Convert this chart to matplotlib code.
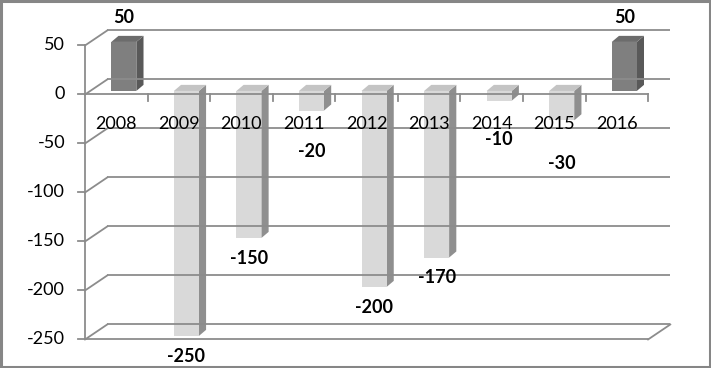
import numpy as np
import matplotlib.pyplot as plt
from matplotlib.patches import Polygon

# ----------------------------------------------
# Data
years = ['2008', '2009', '2010', '2011', '2012', '2013', '2014', '2015', '2016']
values = [50, -250, -150, -20, -200, -170, -10, -30, 50]
y_ticks = [50, 0, -50, -100, -150, -200, -250]

plt.rcParams['font.family'] = ['Lato', 'DejaVu Sans']

# ----------------------------------------------
# Pseudo 3D geometry (category units / value units)
wall_dx, wall_dy = 0.355, 15.3      # depth of the back wall
bar_sx, bar_sy = 0.12, 3.6          # bar front face behind the front plane
bar_dx, bar_dy = 0.115, 6.2         # bar depth
bar_w = 0.40
n = len(years)
vmin, vmax = min(y_ticks), max(y_ticks)

fig = plt.figure(figsize=(7.11, 3.68), dpi=100)
fig.patch.set_facecolor('white')
ax = fig.add_axes([0, 0, 1, 1])
ax.set_xlim(-1.859, 9.506)
ax.set_ylim(-279.1, 96.4)
ax.axis('off')

grid_c = '#8c8c8c'
lw = 1.3
x_left, x_right = -0.5, n - 0.5

# back wall gridlines + left wall diagonals
for v in y_ticks:
    ax.plot([x_left + wall_dx, x_right + wall_dx], [v + wall_dy, v + wall_dy],
            color=grid_c, lw=lw, solid_capstyle='butt')
    ax.plot([x_left, x_left + wall_dx], [v, v + wall_dy], color=grid_c, lw=lw)
    # y tick mark
    ax.plot([x_left - 0.112, x_left], [v, v], color=grid_c, lw=lw)
    ax.text(x_left - 0.32, v, str(v), ha='right', va='center', fontsize=13)

# front vertical axis
ax.plot([x_left, x_left], [vmin, vmax], color=grid_c, lw=lw)

# floor at the bottom
ax.plot([x_left, x_right], [vmin, vmin], color=grid_c, lw=lw)
ax.plot([x_right, x_right + wall_dx], [vmin, vmin + wall_dy], color=grid_c, lw=lw)

# front zero line with category ticks
ax.plot([x_left, x_right], [0, 0], color=grid_c, lw=lw)
for k in range(1, n + 1):
    ax.plot([x_left + k, x_left + k], [0, -6.5], color=grid_c, lw=lw)

# category labels
for i, yr in enumerate(years):
    ax.text(i, -30, yr, ha='center', va='center', fontsize=13)

# ----------------------------------------------
# Bars
for i, v in enumerate(values):
    if v >= 0:
        front, side, top = '#7f7f7f', '#595959', '#6c6c6c'
    else:
        front, side, top = '#d9d9d9', '#8f8f8f', '#c4c4c4'
    x0 = i + bar_sx - bar_w / 2
    x1 = i + bar_sx + bar_w / 2
    b = bar_sy
    yt = b + max(v, 0)
    ax.add_patch(Polygon([(x1, b), (x1, b + v), (x1 + bar_dx, b + v + bar_dy),
                          (x1 + bar_dx, b + bar_dy)], closed=True,
                         facecolor=side, edgecolor='none'))
    ax.add_patch(Polygon([(x0, yt), (x1, yt), (x1 + bar_dx, yt + bar_dy),
                          (x0 + bar_dx, yt + bar_dy)], closed=True,
                         facecolor=top, edgecolor='none'))
    ax.add_patch(Polygon([(x0, b), (x1, b), (x1, b + v), (x0, b + v)], closed=True,
                         facecolor=front, edgecolor='none'))

    # data labels
    if v >= 0:
        ly = v + 29
    elif v < -100:
        ly = v - 17
    else:
        ly = v * 1.2 - 34
    ax.text(i + bar_sx, ly, str(v), ha='center', va='center',
            fontsize=13, fontweight='bold')

# outer border
fig.patches.append(plt.Rectangle((0.0015, 0.003), 0.997, 0.994, transform=fig.transFigure,
                                 fill=False, edgecolor='#868686', lw=2.2))

fig.savefig('out.png', dpi=100, facecolor='white')
